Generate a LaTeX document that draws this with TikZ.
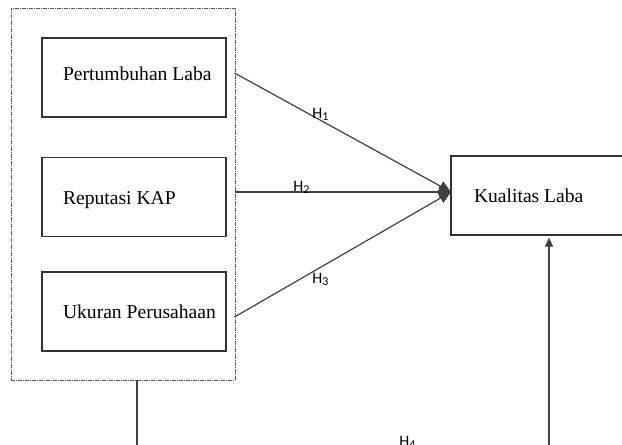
\documentclass[tikz,border=0pt]{standalone}
\usepackage{fontspec}
\setmainfont{Liberation Serif}
\newfontfamily\hfont{Carlito}
\usetikzlibrary{arrows.meta,positioning}
\tikzset{every picture/.style={line width=0.6pt}}

\begin{document}
\begin{tikzpicture}[x=0.5pt,y=-0.5pt,
    var/.style={draw=black!80, minimum width=92pt, minimum height=39.5pt, inner sep=0pt},
    txt/.style={inner sep=0pt, font=\fontsize{9.8}{11}\selectfont},
    hyp/.style={inner sep=0pt, font=\hfont\fontsize{8}{9}\selectfont},
    link/.style={draw=black!75, -{Triangle[length=6pt,width=5.5pt]}}]
    \useasboundingbox (0,0) rectangle (622,445);

    % kotak putus-putus
    \node[draw=black!65, line width=0.5pt, dash pattern=on 2pt off 0.5pt on 0.5pt off 0.5pt,
          minimum width=112pt, minimum height=186pt, inner sep=0pt] (grp) at (123,194) {};

    % variabel
    \node[var] (pl) at (134,77.5) {};
    \node[var] (rk) at (134,197) {};
    \node[var] (up) at (134,311.5) {};
    \node[var] (kl) at (543,195.5) {};
    \node[txt, right=10.5pt of pl.west, yshift=2pt] (tpl) {Pertumbuhan Laba};
    \node[txt, right=10.5pt of rk.west, yshift=-1.5pt] (trk) {Reputasi KAP};
    \node[txt, right=10.5pt of up.west] (tup) {Ukuran Perusahaan};
    \node[txt, right=11.5pt of kl.west] (tkl) {Kualitas Laba};

    % titik ujung
    \coordinate (s1) at (234.5,73);
    \coordinate (s2) at (234.5,192);
    \coordinate (s3) at (234.5,317);
    \coordinate (tip) at (451,192);
    \coordinate (b1) at (137,380);
    \coordinate (b2) at (137,450);
    \coordinate (a1) at (549,450);

    % panah hipotesis
    \draw[link] (s1) -- (tip);
    \draw[link] (s2) -- (tip);
    \draw[link] (s3) -- (tip);
    \draw[draw=black!75] (b1) -- (b2);
    \draw[draw=black!75, -{Triangle[length=4.5pt,width=4pt]}, shorten >=1pt] (a1) -- (a1 |- kl.south);

    % label
    \node[hyp] (h1) at (321,114) {H\textsubscript{1}};
    \node[hyp] (h2) at (302,187.5) {H\textsubscript{2}};
    \node[hyp] (h3) at (321,279.5) {H\textsubscript{3}};
    \node[hyp] (h4) at (408,442) {H\textsubscript{4}};
\end{tikzpicture}
\end{document}
